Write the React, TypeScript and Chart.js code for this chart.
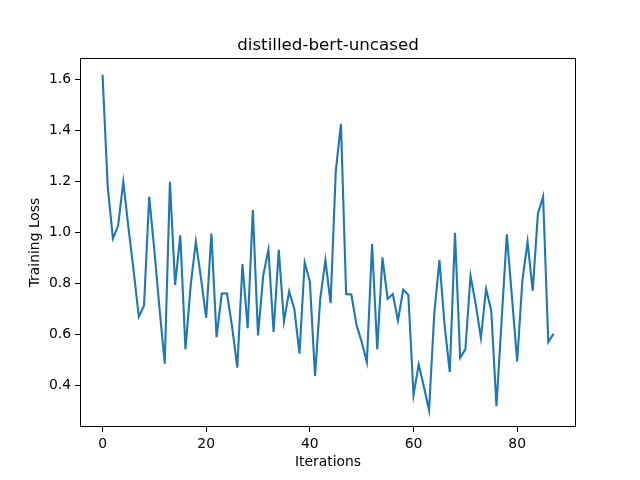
import React, { useEffect, useRef } from "react";
import { Chart, registerables } from "chart.js";

Chart.register(...registerables);

const TITLE = "distilled-bert-uncased";
const X_LABEL = "Iterations";
const Y_LABEL = "Training Loss";

const LOSS: number[] = [
  1.62, 1.18, 0.977, 1.027, 1.2, 1.02, 0.85, 0.67, 0.714, 1.141,
  0.93, 0.7, 0.486, 1.2, 0.795, 0.99, 0.542, 0.792, 0.965, 0.82,
  0.666, 0.997, 0.59, 0.761, 0.762, 0.63, 0.47, 0.877, 0.625, 1.089,
  0.597, 0.831, 0.933, 0.61, 0.933, 0.651, 0.77, 0.701, 0.525, 0.883,
  0.808, 0.438, 0.74, 0.892, 0.723, 1.242, 1.427, 0.759, 0.757, 0.638,
  0.571, 0.492, 0.955, 0.542, 0.903, 0.74, 0.759, 0.655, 0.776, 0.756,
  0.362, 0.483, 0.395, 0.303, 0.681, 0.892, 0.636, 0.453, 1.0, 0.509,
  0.542, 0.831, 0.72, 0.587, 0.779, 0.694, 0.319, 0.656, 0.994, 0.745,
  0.495, 0.812, 0.964, 0.772, 1.075, 1.141, 0.571, 0.603,
];
const ITERATIONS: number[] = LOSS.map((_, i) => i);

const X_TICKS = [0, 20, 40, 60, 80];
const Y_TICKS = [0.4, 0.6, 0.8, 1.0, 1.2, 1.4, 1.6];

const FONT = "'DejaVu Sans', sans-serif";

const framePlugin = {
  id: "frameAndLabels",
  afterDraw(chart: any) {
    const { ctx, chartArea } = chart;
    const { left, top, right, bottom } = chartArea;
    ctx.save();
    ctx.strokeStyle = "#000";
    ctx.lineWidth = 1;
    const l = Math.round(left) + 0.5;
    const t = Math.round(top) + 0.5;
    const r = Math.round(right) - 0.5;
    const b = Math.round(bottom) - 0.5;
    ctx.strokeRect(l, t, r - l, b - t);

    ctx.fillStyle = "#000";
    ctx.textAlign = "center";
    ctx.font = `16.7px ${FONT}`;
    ctx.textBaseline = "alphabetic";
    const cx = (left + right) / 2;
    ctx.fillText(TITLE, cx, top - 8);

    ctx.font = `13.9px ${FONT}`;
    ctx.textBaseline = "middle";
    ctx.fillText(X_LABEL, cx, 462);

    ctx.translate(35, (top + bottom) / 2);
    ctx.rotate(-Math.PI / 2);
    ctx.fillText(Y_LABEL, 0, 0);
    ctx.restore();
  },
};

export default function App() {
  const ref = useRef<HTMLCanvasElement | null>(null);

  useEffect(() => {
    if (!ref.current) return;
    const ymin = Math.min(...LOSS);
    const ymax = Math.max(...LOSS);
    const yr = ymax - ymin;
    const xmin = ITERATIONS[0];
    const xmax = ITERATIONS[ITERATIONS.length - 1];
    const xr = xmax - xmin;

    const chart = new Chart(ref.current, {
      type: "line",
      data: {
        datasets: [
          {
            data: ITERATIONS.map((x, i) => ({ x, y: LOSS[i] })),
            borderColor: "#1f77b4",
            borderWidth: 2.1,
            pointRadius: 0,
            tension: 0,
            fill: false,
          },
        ],
      },
      options: {
        responsive: false,
        animation: false,
        layout: { padding: { left: 0, top: 58, right: 64, bottom: 0 } },
        plugins: {
          legend: { display: false },
          tooltip: { enabled: false },
          title: { display: false },
        },
        scales: {
          x: {
            type: "linear",
            min: xmin - xr * 0.05,
            max: xmax + xr * 0.05,
            afterBuildTicks: (s: any) => {
              s.ticks = X_TICKS.map((v) => ({ value: v }));
            },
            afterFit: (s: any) => {
              s.height = 53;
            },
            grid: {
              display: true,
              drawOnChartArea: false,
              drawTicks: true,
              tickLength: 5,
              tickColor: "#000",
            },
            border: { display: false },
            ticks: {
              color: "#000",
              font: { family: FONT, size: 13.9 },
              padding: 4,
              maxRotation: 0,
              callback: (v: any) => String(v),
            },
          },
          y: {
            type: "linear",
            min: ymin - yr * 0.05,
            max: ymax + yr * 0.05,
            afterBuildTicks: (s: any) => {
              s.ticks = Y_TICKS.map((v) => ({ value: v }));
            },
            afterFit: (s: any) => {
              s.width = 80;
            },
            grid: {
              display: true,
              drawOnChartArea: false,
              drawTicks: true,
              tickLength: 5,
              tickColor: "#000",
            },
            border: { display: false },
            ticks: {
              color: "#000",
              font: { family: FONT, size: 13.9 },
              padding: 4,
              callback: (v: any) => Number(v).toFixed(1),
            },
          },
        },
      },
      plugins: [framePlugin],
    } as any);

    return () => chart.destroy();
  }, []);

  return (
    <div style={{ position: "absolute", left: 0, top: 0, width: 640, height: 480, background: "#fff" }}>
      <canvas ref={ref} width={640} height={480} style={{ display: "block" }} />
    </div>
  );
}
